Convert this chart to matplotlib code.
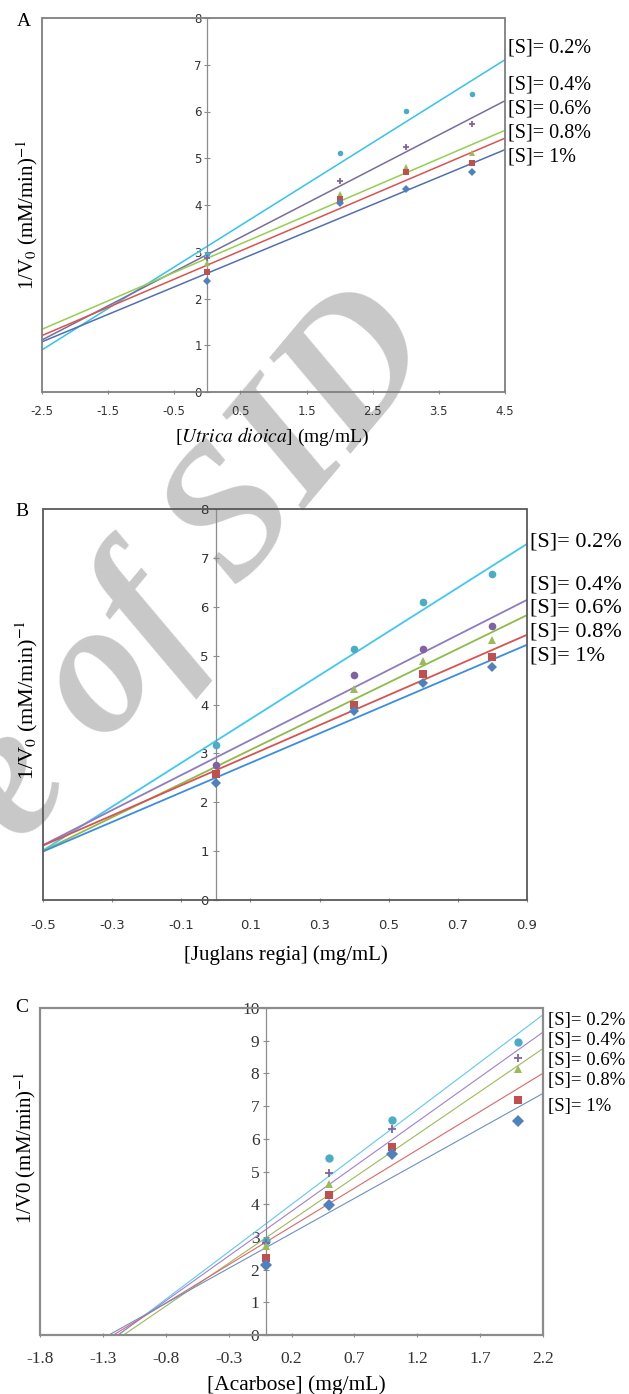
import numpy as np
import matplotlib
matplotlib.use('Agg')
import matplotlib.pyplot as plt
from matplotlib.patches import Rectangle

plt.rcParams['mathtext.fontset'] = 'stix'

W, H = 629, 1394

series_labels = ['[S]= 0.2%', '[S]= 0.4%', '[S]= 0.6%', '[S]= 0.8%', '[S]= 1%']

# A - Utrica dioica
utrica_conc = [0, 2, 3, 4]
utrica_s02 = [2.95, 5.11, 6.01, 6.38]
utrica_s04 = [2.86, 4.51, 5.24, 5.73]
utrica_s06 = [2.75, 4.24, 4.81, 5.12]
utrica_s08 = [2.57, 4.12, 4.71, 4.89]
utrica_s10 = [2.37, 4.04, 4.34, 4.70]
utrica_xticks = [-2.5, -1.5, -0.5, 0.5, 1.5, 2.5, 3.5, 4.5]

# B - Juglans regia
juglans_conc = [0, 0.4, 0.6, 0.8]
juglans_s02 = [3.17, 5.14, 6.09, 6.68]
juglans_s04 = [2.77, 4.60, 5.14, 5.60]
juglans_s06 = [2.60, 4.31, 4.89, 5.31]
juglans_s08 = [2.57, 3.99, 4.63, 4.97]
juglans_s10 = [2.40, 3.86, 4.43, 4.76]
juglans_xticks = [-0.5, -0.3, -0.1, 0.1, 0.3, 0.5, 0.7, 0.9]

# C - Acarbose
acarbose_conc = [0, 0.5, 1, 2]
acarbose_s02 = [2.88, 5.40, 6.57, 8.95]
acarbose_s04 = [2.81, 4.95, 6.31, 8.46]
acarbose_s06 = [2.71, 4.63, 5.65, 8.13]
acarbose_s08 = [2.37, 4.29, 5.75, 7.19]
acarbose_s10 = [2.15, 3.99, 5.52, 6.55]
acarbose_xticks = [-1.8, -1.3, -0.8, -0.3, 0.2, 0.7, 1.2, 1.7, 2.2]

marker_colors = ['#4bacc6', '#8064a2', '#9bbb59', '#c0504d', '#4f81bd']


def px(x, y):
    return x / W, 1 - y / H


def add_axes_px(left, top, right, bottom):
    l, t = px(left, top)
    r, b = px(right, bottom)
    return fig.add_axes([l, b, r - l, t - b])


def draw_panel(ax, x, ys, xlim, ylim, xticks, markers, line_colors, lw, ms,
               frame_color, frame_lw, tick_font, tick_size, tick_color, xpad, ypad):
    xs = np.array(xlim)
    for y, mk, mc, lc in zip(ys, markers, marker_colors, line_colors):
        # linear trendline, as in the original spreadsheet chart
        coef = np.polyfit(x, y, 1)
        ax.plot(xs, np.polyval(coef, xs), color=lc, lw=lw, zorder=2)
        mew = 1.3 if mk == '+' else 0
        ax.plot(x, y, ls='none', marker=mk, color=mc, ms=ms, mew=mew, zorder=3)

    ax.set_xlim(xlim)
    ax.set_ylim(ylim)
    ax.set_facecolor('none')
    for s in ['top', 'right', 'bottom']:
        ax.spines[s].set_visible(False)
    ax.spines['left'].set_position(('data', 0))
    ax.spines['left'].set_color('#8c8c8c')
    ax.spines['left'].set_linewidth(0.9)
    ax.add_patch(Rectangle((0, 0), 1, 1, transform=ax.transAxes, fill=False,
                           ec=frame_color, lw=frame_lw, clip_on=False, zorder=4))

    ax.set_xticks(xticks)
    ax.set_xticklabels(['%.1f' % v for v in xticks])
    ax.set_yticks(range(ylim[0], ylim[1] + 1))
    ax.tick_params(axis='x', length=3, direction='inout', color='#8c8c8c',
                   pad=xpad, labelsize=tick_size, labelcolor=tick_color)
    ax.tick_params(axis='y', length=4, direction='inout', color='#8c8c8c',
                   pad=ypad, labelsize=tick_size, labelcolor=tick_color)
    for lbl in ax.get_xticklabels() + ax.get_yticklabels():
        lbl.set_fontfamily(tick_font)


def put_text(x, y, s, size, **kw):
    fx, fy = px(x, y)
    fig.text(fx, fy, s, fontsize=size, family='Liberation Serif', **kw)


fig = plt.figure(figsize=(W / 100, H / 100), dpi=100)

# watermark of the source site
wx, wy = px(30, 775)
fig.text(wx, wy, 'Archive of SID', rotation=50, fontsize=136,
         family='Liberation Serif', weight='bold', style='italic',
         color='#c8c8c8', ha='center', va='center', rotation_mode='anchor',
         zorder=-1)

narrow = ['Liberation Sans Narrow', 'DejaVu Sans']

axA = add_axes_px(42, 18, 505, 392)
draw_panel(axA, utrica_conc,
           [utrica_s02, utrica_s04, utrica_s06, utrica_s08, utrica_s10],
           (-2.5, 4.5), (0, 8), utrica_xticks,
           ['o', '+', '^', 's', 'D'],
           ['#33c3f0', '#7a6c9c', '#92d050', '#d9534f', '#5070b0'],
           1.1, 4, '#7f7f7f', 1.3, narrow, 8.5, '#333333', 8, 2)

axB = add_axes_px(43, 509, 527, 900)
draw_panel(axB, juglans_conc,
           [juglans_s02, juglans_s04, juglans_s06, juglans_s08, juglans_s10],
           (-0.5, 0.9), (0, 8), juglans_xticks,
           ['o', 'o', '^', 's', 'D'],
           ['#3fc8f5', '#8e7cbf', '#8fbb4a', '#d9534f', '#3a8ee0'],
           1.3, 5.5, '#595959', 1.3, narrow, 9.5, '#333333', 12, 3)

axC = add_axes_px(40, 1008, 543, 1335)
draw_panel(axC, acarbose_conc,
           [acarbose_s02, acarbose_s04, acarbose_s06, acarbose_s08, acarbose_s10],
           (-1.8, 2.2), (0, 10), acarbose_xticks,
           ['o', '+', '^', 's', 'D'],
           ['#5ec9f2', '#a07fd6', '#9bbb59', '#e06666', '#6d8fc6'],
           0.8, 6, '#8c8c8c', 1.6, 'Liberation Serif', 12.5, '#333333', 10, 3)

# panel letters
put_text(17, 22, 'A', 14, ha='left', va='center')
put_text(15, 511, 'B', 14, ha='left', va='center')
put_text(15, 1008, 'C', 14, ha='left', va='center')

# axis labels
put_text(27, 215, '1/V$_0$ (mM/min)$^{-1}$', 15, rotation=90, ha='center', va='center')
put_text(27, 700, '1/V$_0$ (mM/min)$^{-1}$', 16, rotation=90, ha='center', va='center')
put_text(25, 1148, '1/V0 (mM/min)$^{-1}$', 15, rotation=90, ha='center', va='center')
put_text(272, 437, '[$\\mathit{Utrica\\ dioica}$] (mg/mL)', 14, ha='center', va='center')
put_text(286, 955, '[Juglans regia] (mg/mL)', 15, ha='center', va='center')
put_text(296, 1385, '[Acarbose] (mg/mL)', 15.5, ha='center', va='center')

# series labels beside each panel
label_ys_A = [48, 85, 109, 133, 157]
label_ys_B = [542, 585, 608, 632, 656]
label_ys_C = [1020, 1040, 1060, 1080, 1107]
for lbl, ya, yb, yc in zip(series_labels, label_ys_A, label_ys_B, label_ys_C):
    put_text(508, ya, lbl, 14.5, ha='left', va='center')
    put_text(530, yb, lbl, 16, ha='left', va='center')
    put_text(548, yc, lbl, 13.5, ha='left', va='center')

fig.savefig('out.png', dpi=100)
